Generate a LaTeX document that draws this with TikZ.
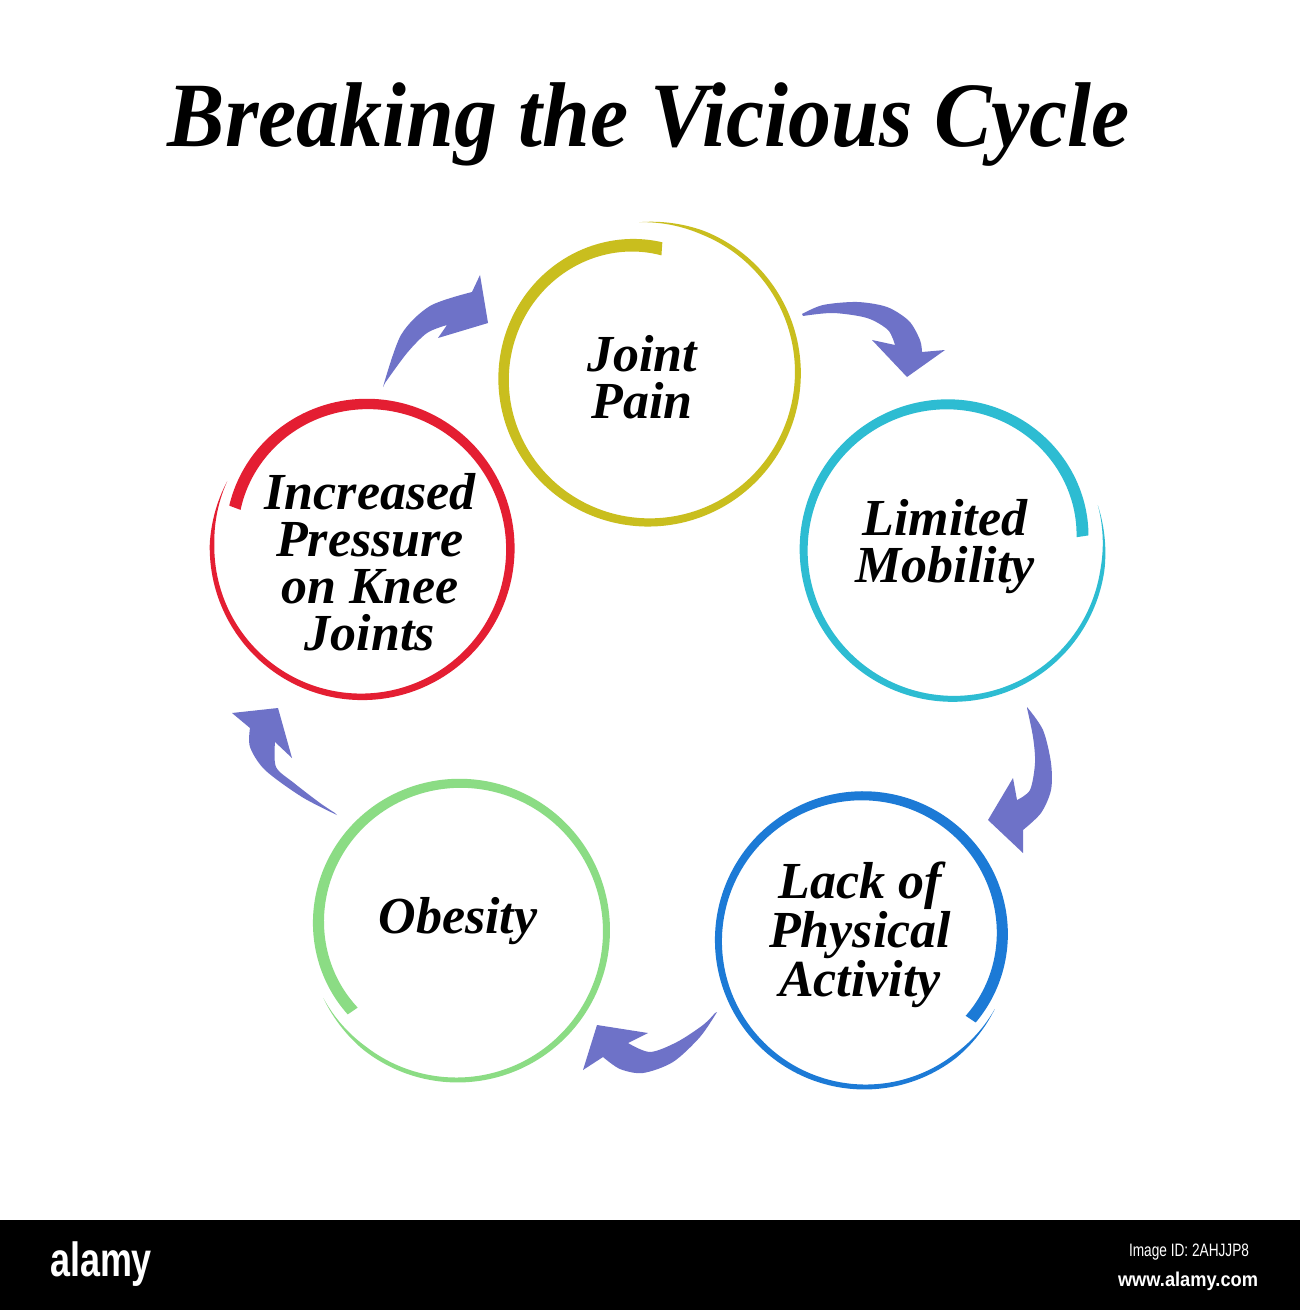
\documentclass[tikz,border=0pt]{standalone}
\usepackage{fontspec}
\setmainfont{Liberation Serif}
\newfontfamily\wmfont{Liberation Sans}
\usepackage{graphicx}
\definecolor{cyellow}{RGB}{201,190,30}
\definecolor{ccyan}{RGB}{45,188,210}
\definecolor{cblue}{RGB}{28,122,214}
\definecolor{cgreen}{RGB}{139,220,132}
\definecolor{cred}{RGB}{228,30,50}
\definecolor{carrow}{RGB}{110,114,200}
% #1 cx #2 cy #3 theta start #4 theta end #5 r0 #6 r1 #7 w0 #8 w1 #9 colour
\newcommand\brushring[9]{%
 \fill[#9] plot[domain=0:1,samples=220,variable=\t]
 ({#1+(#5+(#6-#5)*\t*\t*\t*\t+0.5*(#7+(#8-#7)*\t)*min(1,15*\t))*cos(#3+(#4-#3)*\t)},
  {#2+(#5+(#6-#5)*\t*\t*\t*\t+0.5*(#7+(#8-#7)*\t)*min(1,15*\t))*sin(#3+(#4-#3)*\t)})
 -- plot[domain=1:0,samples=220,variable=\t]
 ({#1+(#5+(#6-#5)*\t*\t*\t*\t-0.5*(#7+(#8-#7)*\t)*min(1,15*\t))*cos(#3+(#4-#3)*\t)},
  {#2+(#5+(#6-#5)*\t*\t*\t*\t-0.5*(#7+(#8-#7)*\t)*min(1,15*\t))*sin(#3+(#4-#3)*\t)})
 -- cycle;}
\tikzset{
 label/.style={align=center,font=\fontsize{26}{23.5}\selectfont\bfseries\itshape,inner sep=0pt},
 arrowshape/.style={fill=carrow},
}
\begin{document}
\begin{tikzpicture}[x=0.5pt,y=-0.5pt]
\useasboundingbox (0,0) rectangle (1300,1310);
\fill[white] (0,0) rectangle (1300,1310);

% title
\node[anchor=base,inner sep=0pt] (title) at (649,147)
 {\resizebox{481pt}{\height}{\fontsize{46}{50}\selectfont\bfseries\itshape Breaking the Vicious Cycle}};

% rings
\brushring{647}{373}{-93}{277}{151}{125}{3.5}{13}{cyellow}
\brushring{953}{548}{-16.5}{355}{151}{130}{3.5}{12}{ccyan}
\brushring{865}{940}{28}{397}{147}{132}{3.5}{12}{cblue}
\brushring{457}{930}{153}{-218}{150}{132}{3.5}{12}{cgreen}
\brushring{362}{547}{206}{-163}{150}{133}{4}{12}{cred}

% labels
\node[label] (joint) at (642,377) {Joint\\Pain};
\node[label] (mob) at (945,547) {Limited\\Mobility};
\node[label] (lack) at (860,935) {Lack of\\Physical\\Activity};
\node[label] (obes) at (458,921) {Obesity};
\node[label] (press) at (370,562) {Increased\\Pressure\\on Knee\\Joints};

% arrows
\fill[arrowshape] plot[smooth] coordinates {(383,387) (401,335) (430,306) (472,292)}
 -- (480,275) -- (488,323) -- (438,338)
 -- plot[smooth] coordinates {(447,325) (427,333) (407,353) (385,383)} -- cycle;
\fill[arrowshape] plot[smooth] coordinates {(802,314) (823,305) (857,302) (887,307) (909,321) (920,340) (922,352)}
 -- (945,350) -- (907,377) -- (872,340)
 -- plot[smooth] coordinates {(895,345) (888,330) (867,318) (833,313) (803,316)} -- cycle;
\fill[arrowshape] plot[smooth] coordinates {(1027,707) (1043,730) (1051,763) (1051,790) (1041,813) (1023,830)}
 -- (1023,853) -- (988,820) -- (1013,778)
 -- plot[smooth] coordinates {(1017,800) (1030,790) (1035,763) (1033,737) (1027,708)} -- cycle;
\fill[arrowshape] plot[smooth] coordinates {(717,1012) (700,1037) (673,1062) (643,1073) (620,1069) (603,1057)}
 -- (583,1070) -- (597,1025) -- (648,1033)
 -- plot[smooth] coordinates {(628,1043) (650,1052) (677,1042) (703,1025) (715,1013)} -- cycle;
\fill[arrowshape] plot[smooth] coordinates {(337,815) (302,797) (265,770) (250,747) (250,728)}
 -- (232,713) -- (278,708) -- (292,758)
 -- plot[smooth] coordinates {(275,742) (276,767) (294,783) (320,803) (335,813)} -- cycle;

% footer bar
\fill[black] (0,1220) rectangle (1300,1310);
\node[text=white,inner sep=0pt] (alamy) at (101,1264)
 {\resizebox{51pt}{\height}{\wmfont\fontsize{24}{24}\selectfont\bfseries alamy}};
\node[text=white,inner sep=0pt] (imgid) at (1189,1252)
 {\resizebox{60pt}{\height}{\wmfont\fontsize{9}{9}\selectfont Image ID: 2AHJJP8}};
\node[text=white,inner sep=0pt] (www) at (1188,1281)
 {\resizebox{70pt}{\height}{\wmfont\fontsize{10}{10}\selectfont\bfseries www.alamy.com}};
\end{tikzpicture}
\end{document}
